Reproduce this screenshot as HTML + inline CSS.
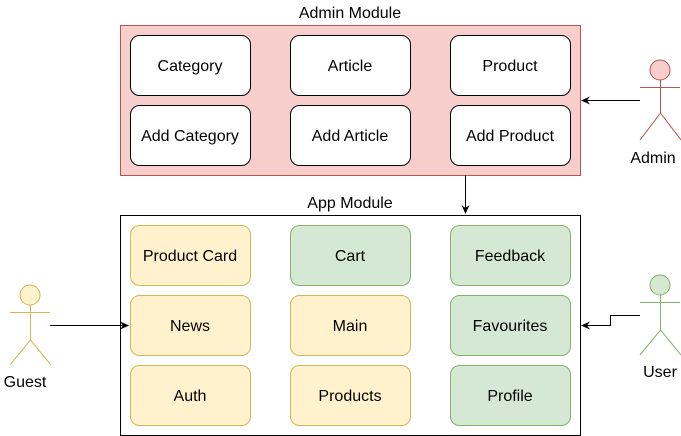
<html><body style="margin:0;width:681px;height:436px;background:#fff;overflow:hidden">
<svg width="681" height="436" xmlns="http://www.w3.org/2000/svg" font-family="Liberation Sans, sans-serif" font-size="16">
<defs><marker id="a" markerWidth="10" markerHeight="10" refX="8" refY="5" orient="auto" markerUnits="userSpaceOnUse"><path d="M0,1 L9,5 L0,9 L3,5 Z" fill="#000"/></marker></defs>
<rect x="120.5" y="25.5" width="460" height="150" fill="#f8cecc" stroke="#b85450"/>
<text x="350" y="18" text-anchor="middle">Admin Module</text>
<g fill="#fff" stroke="#000">
<rect x="130.5" y="35.5" width="120" height="60" rx="9"/><rect x="290.5" y="35.5" width="120" height="60" rx="9"/><rect x="450.5" y="35.5" width="120" height="60" rx="9"/>
<rect x="130.5" y="105.5" width="120" height="60" rx="9"/><rect x="290.5" y="105.5" width="120" height="60" rx="9"/><rect x="450.5" y="105.5" width="120" height="60" rx="9"/>
</g>
<g text-anchor="middle">
<text x="190" y="71">Category</text><text x="350" y="71">Article</text><text x="510" y="71">Product</text>
<text x="190" y="141">Add Category</text><text x="350" y="141">Add Article</text><text x="510" y="141">Add Product</text>
</g>
<rect x="120.5" y="215.5" width="460" height="220" fill="#fff" stroke="#000"/>
<text x="350" y="208" text-anchor="middle">App Module</text>
<g fill="#fff2cc" stroke="#d6b656">
<rect x="130.5" y="225.5" width="120" height="60" rx="9"/><rect x="130.5" y="295.5" width="120" height="60" rx="9"/><rect x="130.5" y="365.5" width="120" height="60" rx="9"/>
<rect x="290.5" y="295.5" width="120" height="60" rx="9"/><rect x="290.5" y="365.5" width="120" height="60" rx="9"/>
</g>
<g fill="#d5e8d4" stroke="#82b366">
<rect x="290.5" y="225.5" width="120" height="60" rx="9"/>
<rect x="450.5" y="225.5" width="120" height="60" rx="9"/><rect x="450.5" y="295.5" width="120" height="60" rx="9"/><rect x="450.5" y="365.5" width="120" height="60" rx="9"/>
</g>
<g text-anchor="middle">
<text x="190" y="261">Product Card</text><text x="350" y="261">Cart</text><text x="510" y="261">Feedback</text>
<text x="190" y="331">News</text><text x="350" y="331">Main</text><text x="510" y="331">Favourites</text>
<text x="190" y="401">Auth</text><text x="350" y="401">Products</text><text x="510" y="401">Profile</text>
</g>
<g fill="none" stroke="#000">
<path d="M465.5 175.5 V213" marker-end="url(#a)"/>
<path d="M640 100.5 H582" marker-end="url(#a)"/>
<path d="M50 325.5 H128" marker-end="url(#a)"/>
<path d="M640 315.5 H610.5 V325.5 H582" marker-end="url(#a)"/>
</g>
<g stroke="#b85450" fill="none"><circle cx="660" cy="70" r="10" fill="#f8cecc"/><path d="M640 87.5 H680 M660.5 80 V113 L640 140 M660.5 113 L681 140"/></g>
<g stroke="#82b366" fill="none"><circle cx="660" cy="285" r="10" fill="#d5e8d4"/><path d="M640 302.5 H680 M660.5 295 V330 L640 355 M660.5 330 L681 355"/></g>
<g stroke="#d6b656" fill="none"><circle cx="30" cy="295" r="10" fill="#fff2cc"/><path d="M10 312.5 H50 M30.5 305 V340 L10 365 M30.5 340 L51 365"/></g>
<g text-anchor="middle"><text x="653" y="163">Admin</text><text x="660" y="377">User</text><text x="25" y="387">Guest</text></g>
</svg>
</body></html>
